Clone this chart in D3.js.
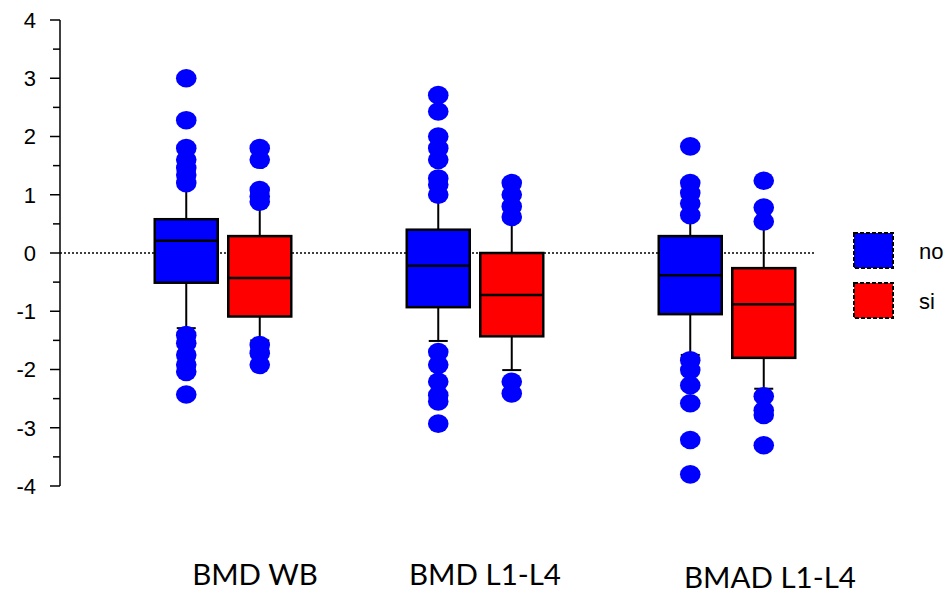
<!DOCTYPE html>
<html><head><meta charset="utf-8">
<script src="https://cdn.jsdelivr.net/npm/d3@7"></script>
<style>body{margin:0;background:#fff}svg{display:block}</style>
</head><body>
<svg id="c" width="950" height="594"></svg>
<script>
const categories = ["BMD WB", "BMD L1-L4", "BMAD L1-L4"];
const seriesNames = ["no", "si"];
const seriesColors = ["#0000ff", "#ff0000"];
const yTicks = [-4, -3, -2, -1, 0, 1, 2, 3, 4];
// [category][series]
const q1 = [[-0.51, -1.09], [-0.93, -1.43], [-1.05, -1.80]];
const median = [[0.21, -0.43], [-0.22, -0.72], [-0.38, -0.88]];
const q3 = [[0.58, 0.29], [0.40, 0.00], [0.29, -0.26]];
const whiskerLow = [[-1.29, -1.50], [-1.51, -2.01], [-1.75, -2.33]];
const whiskerHigh = [[1.20, 0.88], [1.01, 0.60], [0.65, 0.54]];
const outliers = [
  [[3.0, 2.28, 1.8, 1.6, 1.46, 1.34, 1.2, -1.41, -1.55, -1.75, -1.92, -2.04, -2.43],
   [1.8, 1.6, 1.08, 0.97, 0.88, -1.58, -1.72, -1.92]],
  [[2.71, 2.43, 2.0, 1.8, 1.6, 1.28, 1.17, 1.0, -1.7, -1.92, -2.21, -2.44, -2.55, -2.93],
   [1.2, 1.0, 0.8, 0.62, -2.21, -2.41]],
  [[1.83, 1.2, 1.03, 0.85, 0.65, -1.84, -2.01, -2.27, -2.58, -3.21, -3.80],
   [1.24, 0.78, 0.54, -2.46, -2.70, -2.78, -3.30]]
];

const svg = d3.select("#c");
const y = d3.scaleLinear().domain([-4, 4]).range([486, 20]);
const xg = d3.scalePoint().domain(categories).range([223, 727]);
const xs = d3.scalePoint().domain(seriesNames).range([-36.75, 36.75]);
const boxW = 63, capW = 19;

// y axis
const axis = svg.append("g").attr("transform", "translate(60,0)");
axis.append("line").attr("x1", 0).attr("x2", 0).attr("y1", y(4)).attr("y2", y(-4))
  .attr("stroke", "#000").attr("stroke-width", 1.5);
const minor = d3.range(-3.5, 4, 1);
axis.selectAll(".mi").data(minor).join("line")
  .attr("x1", -7).attr("x2", 0).attr("y1", d => y(d)).attr("y2", d => y(d))
  .attr("stroke", "#000").attr("stroke-width", 1.5);
axis.selectAll(".ma").data(yTicks).join("line")
  .attr("x1", -10).attr("x2", 0).attr("y1", d => y(d)).attr("y2", d => y(d))
  .attr("stroke", "#000").attr("stroke-width", 1.5);
axis.selectAll("text").data(yTicks).join("text")
  .attr("x", -24).attr("y", d => y(d)).attr("dy", "0.36em")
  .attr("text-anchor", "end").attr("font-family", "Liberation Sans, Arial, sans-serif")
  .attr("font-size", 22).text(d => d);

// zero dotted line
svg.append("line").attr("x1", 60).attr("x2", 816).attr("y1", y(0)).attr("y2", y(0))
  .attr("stroke", "#000").attr("stroke-width", 1.5).attr("stroke-dasharray", "2,2");

// boxes
categories.forEach((cat, ci) => {
  seriesNames.forEach((s, si) => {
    const cx = xg(cat) + xs(s);
    const g = svg.append("g");
    g.append("line").attr("x1", cx).attr("x2", cx)
      .attr("y1", y(whiskerHigh[ci][si])).attr("y2", y(whiskerLow[ci][si]))
      .attr("stroke", "#000").attr("stroke-width", 2);
    [whiskerHigh[ci][si], whiskerLow[ci][si]].forEach(v => {
      g.append("line").attr("x1", cx - capW / 2).attr("x2", cx + capW / 2)
        .attr("y1", y(v)).attr("y2", y(v)).attr("stroke", "#000").attr("stroke-width", 2);
    });
    g.append("rect").attr("x", cx - boxW / 2).attr("width", boxW)
      .attr("y", y(q3[ci][si])).attr("height", y(q1[ci][si]) - y(q3[ci][si]))
      .attr("fill", seriesColors[si]).attr("stroke", "#000").attr("stroke-width", 2.5);
    g.append("line").attr("x1", cx - boxW / 2).attr("x2", cx + boxW / 2)
      .attr("y1", y(median[ci][si])).attr("y2", y(median[ci][si]))
      .attr("stroke", "#000").attr("stroke-width", 2.5);
    g.selectAll("ellipse").data(outliers[ci][si]).join("ellipse")
      .attr("cx", cx).attr("cy", d => y(d)).attr("rx", 10.3).attr("ry", 9.3)
      .attr("fill", "#0000ff");
  });
});

// x labels
const labelX = [255, 485, 770], labelY = [585, 585, 588];
svg.selectAll(".xl").data(categories).join("text")
  .attr("x", (d, i) => labelX[i]).attr("y", (d, i) => labelY[i])
  .attr("text-anchor", "middle").attr("font-family", "Lato, sans-serif")
  .attr("font-size", 29.5).text(d => d);

// legend
const leg = svg.append("g");
seriesNames.forEach((s, i) => {
  const ly = 233 + i * 50;
  leg.append("rect").attr("x", 854).attr("y", ly).attr("width", 39).attr("height", 35)
    .attr("fill", seriesColors[i]).attr("stroke", "#000").attr("stroke-width", 2)
    .attr("stroke-dasharray", "4,2");
  leg.append("text").attr("x", 919).attr("y", ly + 18).attr("dy", "0.35em")
    .attr("font-family", "Liberation Sans, Arial, sans-serif").attr("font-size", 22).text(s);
});
</script>
</body></html>
